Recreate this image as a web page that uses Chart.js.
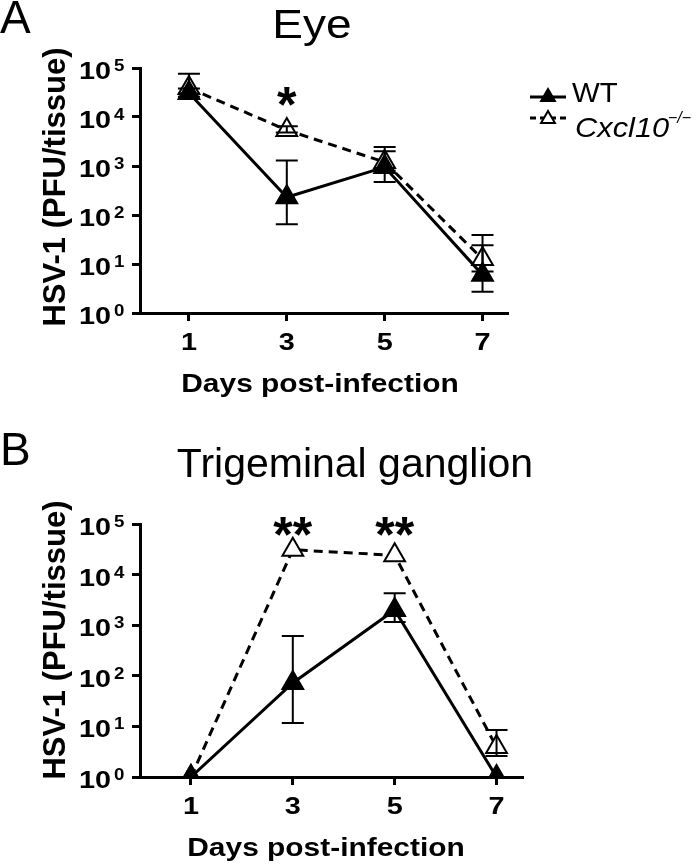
<!DOCTYPE html>
<html>
<head>
<meta charset="utf-8">
<script src="https://cdn.jsdelivr.net/npm/chart.js"></script>
<style>
  body { margin: 0; background: #fff; }
  canvas { display: block; }
</style>
</head>
<body>
<canvas id="eyeChart" width="700" height="430"></canvas>
<canvas id="tgChart" width="700" height="435"></canvas>
<script>
// days post-infection
var days = [1, 3, 5, 7];
var xTicks = [1, 3, 5, 7];
var yExponents = [0, 1, 2, 3, 4, 5];

// Eye, PFU/tissue
var eyeWT = [31000, 230, 950, 6];
var eyeWTHi = [38000, 1300, 2000, 24];
var eyeWTLo = [26000, 65, 470, 2.7];
var eyeKO = [39000, 5400, 1200, 12.6];
var eyeKOHi = [76000, 6500, 2450, 39];
var eyeKOLo = [30000, 4800, 800, 7];

// Trigeminal ganglion, PFU/tissue
var tgWT = [1, 72, 2000, 1];
var tgWTHi = [1, 610, 4300, 1];
var tgWTLo = [1, 11.7, 1160, 1];
var tgKO = [1, 31000, 24000, 3.9];
var tgKOHi = [1, 31000, 24000, 8.5];
var tgKOLo = [1, 31000, 24000, 2.6];

var FONT = '"Liberation Sans", Arial, sans-serif';

function txt(ctx, s, x, y, size, style, align, sx) {
    ctx.save();
    ctx.font = style + ' ' + size + 'px ' + FONT;
    ctx.fillStyle = '#000';
    ctx.textAlign = align || 'left';
    ctx.textBaseline = 'alphabetic';
    ctx.translate(x, y);
    ctx.scale(sx || 1, 1);
    ctx.fillText(s, 0, 0);
    ctx.restore();
}

function tri(ctx, x, y, r, fill) {
    ctx.beginPath();
    ctx.moveTo(x, y - r);
    ctx.lineTo(x + r * 0.866, y + r / 2);
    ctx.lineTo(x - r * 0.866, y + r / 2);
    ctx.closePath();
    ctx.fillStyle = fill;
    ctx.fill();
    ctx.lineWidth = 2;
    ctx.strokeStyle = '#000';
    ctx.stroke();
}

function pts(vals) {
    return days.map(function (d, i) { return { x: d, y: vals[i] }; });
}

function makeChart(id, s, pad, decorate) {
    var ctx = document.getElementById(id).getContext('2d');
    var axisGrid = { drawOnChartArea: false, color: '#000', lineWidth: 3, tickLength: 8, tickWidth: 3 };
    var axisBorder = { color: '#000', width: 3 };

    return new Chart(ctx, {
        type: 'line',
        data: {
            datasets: [
                {
                    label: 'WT',
                    data: pts(s.wt),
                    borderColor: '#000',
                    borderWidth: 3,
                    pointStyle: 'triangle',
                    pointRadius: 12,
                    pointBackgroundColor: '#000',
                    pointBorderColor: '#000',
                    pointBorderWidth: 2
                },
                {
                    label: 'Cxcl10-/-',
                    data: pts(s.ko),
                    borderColor: '#000',
                    borderWidth: 3,
                    borderDash: [9, 6],
                    pointStyle: 'triangle',
                    pointRadius: 12,
                    pointBackgroundColor: '#fff',
                    pointBorderColor: '#000',
                    pointBorderWidth: 2
                }
            ]
        },
        options: {
            responsive: false,
            animation: false,
            devicePixelRatio: 1,
            events: [],
            layout: { padding: pad },
            scales: {
                x: {
                    type: 'linear',
                    min: 0,
                    max: 7.5,
                    afterBuildTicks: function (sc) { sc.ticks = xTicks.map(function (v) { return { value: v }; }); },
                    afterFit: function (sc) { sc.height = 20; },
                    ticks: { display: false },
                    grid: axisGrid,
                    border: axisBorder
                },
                y: {
                    type: 'logarithmic',
                    min: 1,
                    max: 100000,
                    afterBuildTicks: function (sc) { sc.ticks = yExponents.map(function (e) { return { value: Math.pow(10, e) }; }); },
                    afterFit: function (sc) { sc.width = 20; },
                    ticks: { display: false },
                    grid: axisGrid,
                    border: axisBorder
                }
            },
            plugins: {
                legend: { display: false },
                tooltip: { enabled: false }
            }
        },
        plugins: [{
            afterDatasetsDraw: function (chart) {
                var c = chart.ctx, xs = chart.scales.x, ys = chart.scales.y;
                c.save();
                c.strokeStyle = '#000';
                c.lineWidth = 2;
                [[s.wtHi, s.wtLo], [s.koHi, s.koLo]].forEach(function (p) {
                    p[0].forEach(function (h, i) {
                        var l = p[1][i];
                        if (h === l) return;
                        var x = xs.getPixelForValue(days[i]);
                        var y1 = ys.getPixelForValue(h), y2 = ys.getPixelForValue(l);
                        c.beginPath();
                        c.moveTo(x, y1); c.lineTo(x, y2);
                        c.moveTo(x - 11, y1); c.lineTo(x + 11, y1);
                        c.moveTo(x - 11, y2); c.lineTo(x + 11, y2);
                        c.stroke();
                    });
                });
                c.restore();
            },
            afterDraw: function (chart) {
                var c = chart.ctx, xs = chart.scales.x, ys = chart.scales.y;
                var area = chart.chartArea;
                // y tick labels 10^n
                yExponents.forEach(function (e) {
                    var y = ys.getPixelForValue(Math.pow(10, e));
                    txt(c, '10', 111, y + 11, 24, 'bold', 'right', 1.2);
                    txt(c, String(e), 114, y + 3, 17, 'bold', 'left', 1.1);
                });
                // x tick labels
                xTicks.forEach(function (v) {
                    txt(c, String(v), xs.getPixelForValue(v), area.bottom + 37, 24, 'bold', 'center', 1.2);
                });
                decorate(c, chart);
            }
        }]
    });
}

makeChart('eyeChart', {
    wt: eyeWT, wtHi: eyeWTHi, wtLo: eyeWTLo,
    ko: eyeKO, koHi: eyeKOHi, koLo: eyeKOLo
}, { left: 120, right: 193, top: 68, bottom: 97 }, function (c, chart) {
    var xs = chart.scales.x;
    txt(c, 'A', 0, 33, 46, 'normal', 'left', 1);
    txt(c, 'Eye', 312, 38, 40, 'normal', 'center', 1.15);
    txt(c, 'Days post-infection', 320, 392, 26, 'bold', 'center', 1.15);
    c.save();
    c.translate(65, 187);
    c.rotate(-Math.PI / 2);
    txt(c, 'HSV-1 (PFU/tissue)', 0, 0, 31, 'bold', 'center', 1);
    c.restore();
    txt(c, '*', xs.getPixelForValue(3), 122, 50, 'bold', 'center', 1);

    // legend
    c.save();
    c.strokeStyle = '#000';
    c.lineWidth = 3;
    c.beginPath(); c.moveTo(530, 97); c.lineTo(566, 97); c.stroke();
    tri(c, 548, 97, 8, '#000');
    c.setLineDash([6, 4]);
    c.lineWidth = 3;
    c.beginPath(); c.moveTo(530, 118); c.lineTo(566, 118); c.stroke();
    c.setLineDash([]);
    tri(c, 548, 119, 8, '#fff');
    c.restore();
    txt(c, 'WT', 572, 102, 28, 'normal', 'left', 1.05);
    txt(c, 'Cxcl10', 575, 137, 28, 'italic', 'left', 1.1);
    txt(c, '\u2212/\u2212', 668, 123, 16, 'italic', 'left', 1);
});

makeChart('tgChart', {
    wt: tgWT, wtHi: tgWTHi, wtLo: tgWTLo,
    ko: tgKO, koHi: tgKOHi, koLo: tgKOLo
}, { left: 120, right: 178, top: 94, bottom: 68 }, function (c, chart) {
    var xs = chart.scales.x;
    txt(c, 'B', 0, 35, 46, 'normal', 'left', 1);
    txt(c, 'Trigeminal ganglion', 355, 47, 41, 'normal', 'center', 1);
    txt(c, 'Days post-infection', 326, 426, 26, 'bold', 'center', 1.15);
    c.save();
    c.translate(65, 210);
    c.rotate(-Math.PI / 2);
    txt(c, 'HSV-1 (PFU/tissue)', 0, 0, 31, 'bold', 'center', 1);
    c.restore();
    txt(c, '**', xs.getPixelForValue(3), 122, 50, 'bold', 'center', 1);
    txt(c, '**', xs.getPixelForValue(5), 122, 50, 'bold', 'center', 1);
});
</script>
</body>
</html>
